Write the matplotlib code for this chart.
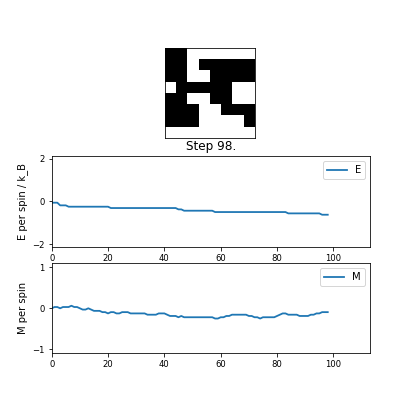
import numpy as np
import matplotlib
matplotlib.use('Agg')
import matplotlib.pyplot as plt

# final spin configuration (1 = up / white, -1 = down / black)
spins = np.array([
    [-1, -1,  1,  1,  1,  1,  1,  1],
    [-1, -1,  1, -1, -1, -1, -1, -1],
    [-1, -1,  1,  1, -1, -1, -1, -1],
    [ 1, -1, -1, -1, -1, -1,  1,  1],
    [-1, -1,  1,  1, -1, -1,  1,  1],
    [-1, -1, -1,  1,  1, -1, -1, -1],
    [-1, -1, -1,  1,  1,  1,  1, -1],
    [ 1,  1,  1,  1,  1,  1,  1,  1],
])

steps = list(range(99))

# energy per spin
E = ([-0.0625] * 3 + [-0.1875] * 3 + [-0.25] * 15 + [-0.3125] * 24 +
     [-0.375] * 2 + [-0.4375] * 11 + [-0.5] * 26 + [-0.5625] * 12 +
     [-0.625] * 3)

# magnetisation per spin in units of 1/32
M_k = [0, 1, 1, 0, 1, 1, 1, 2, 1, 1,
       0, -1, -1, 0, -1, -2, -2, -2, -3, -3,
       -4, -3, -3, -4, -4, -3, -3, -3, -4, -4,
       -4, -4, -4, -4, -5, -5, -5, -5, -4, -4,
       -4, -5, -6, -6, -6, -7, -6, -7, -7, -7,
       -7, -7, -7, -7, -7, -7, -7, -7, -8, -8,
       -7, -7, -6, -6, -5, -5, -5, -5, -5, -5,
       -6, -6, -7, -7, -8, -7, -7, -7, -7, -7,
       -6, -5, -4, -4, -5, -5, -5, -5, -6, -6,
       -6, -6, -5, -5, -4, -4, -3, -3, -3]
M = [k / 32 for k in M_k]

W, H = 410, 404
fig = plt.figure(figsize=(W / 72, H / 72), dpi=72)

# lattice image
ax_img = fig.add_axes([165.3 / W, 1 - 138.3 / H, 90 / W, 90 / H])
ax_img.imshow(spins, cmap='gray', vmin=-1, vmax=1, interpolation='nearest')
ax_img.set_xticks([])
ax_img.set_yticks([])

# energy
ax_e = fig.add_axes([51.7 / W, 1 - 246.7 / H, 318.3 / W, 90.7 / H])
ax_e.plot(steps, E, linewidth=1.8, label='E')
ax_e.set_xlim(0, 113)
ax_e.set_ylim(-2.12, 2.12)
ax_e.set_yticks([-2, 0, 2])
ax_e.set_title('Step 98.', fontsize=12)
ax_e.set_ylabel('E per spin / k_B', fontsize=10)
ax_e.legend(loc='upper right', fontsize=10)

# magnetisation
ax_m = fig.add_axes([51.7 / W, 1 - 353.3 / H, 318.3 / W, 90 / H])
ax_m.plot(steps, M, linewidth=1.8, label='M')
ax_m.set_xlim(0, 113)
ax_m.set_ylim(-1.1, 1.1)
ax_m.set_yticks([-1, 0, 1])
ax_m.set_ylabel('M per spin', fontsize=10)
ax_m.legend(loc='upper right', fontsize=10)

for ax in [ax_e, ax_m]:
    ax.set_xticks([0, 20, 40, 60, 80, 100])
    ax.tick_params(labelsize=8.5)

fig.savefig('out.png', dpi=72)
